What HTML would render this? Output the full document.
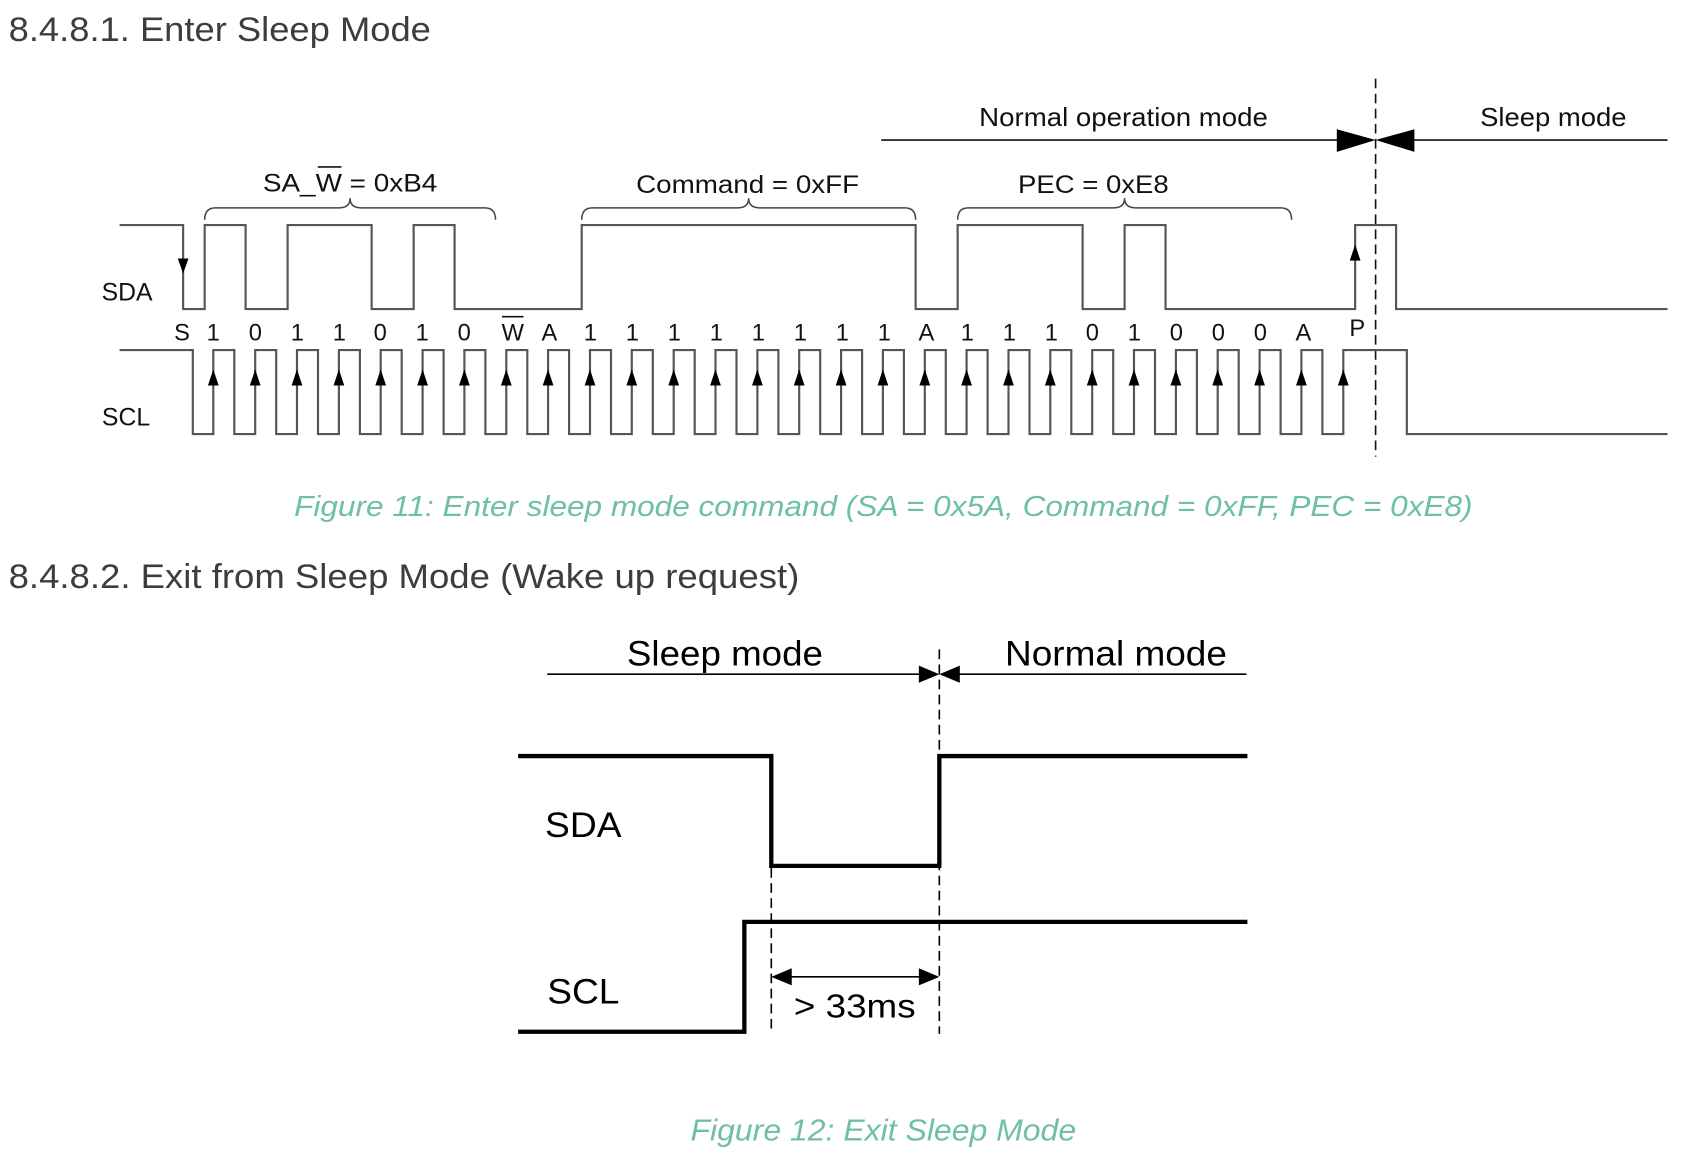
<!DOCTYPE html>
<html><head><meta charset="utf-8"><style>
html,body{margin:0;padding:0;background:#fff;}
svg{display:block;}
</style></head><body>
<svg width="1688" height="1164" viewBox="0 0 1567 1080.8" preserveAspectRatio="none" xmlns="http://www.w3.org/2000/svg">
<g font-family="Liberation Sans, sans-serif">
<text x="8" y="38" font-size="32" fill="#3d3d3d" textLength="392" lengthAdjust="spacingAndGlyphs">8.4.8.1. Enter Sleep Mode</text>
<text x="8" y="546" font-size="32" fill="#3d3d3d" textLength="734" lengthAdjust="spacingAndGlyphs">8.4.8.2. Exit from Sleep Mode (Wake up request)</text>

<!-- Figure 11 -->
<text x="1043" y="117" font-size="24" text-anchor="middle" fill="#111" textLength="268" lengthAdjust="spacingAndGlyphs">Normal operation mode</text>
<text x="1442" y="117" font-size="24" text-anchor="middle" fill="#111" textLength="136" lengthAdjust="spacingAndGlyphs">Sleep mode</text>
<line x1="818" y1="130" x2="1245" y2="130" stroke="#111" stroke-width="1.5"/>
<line x1="1310" y1="130" x2="1548" y2="130" stroke="#111" stroke-width="1.5"/>
<polygon points="1241,120 1241,141 1277,130" fill="#000"/>
<polygon points="1313,120 1313,141 1277,130" fill="#000"/>
<line x1="1277" y1="73" x2="1277" y2="424" stroke="#111" stroke-width="1.5" stroke-dasharray="9,5"/>

<text x="244" y="178" font-size="23" fill="#111" textLength="162" lengthAdjust="spacingAndGlyphs">SA_W = 0xB4</text>
<line x1="295" y1="155" x2="317" y2="155" stroke="#111" stroke-width="1.5"/>
<text x="694" y="179" font-size="23" text-anchor="middle" fill="#111" textLength="207" lengthAdjust="spacingAndGlyphs">Command = 0xFF</text>
<text x="1015" y="179" font-size="23" text-anchor="middle" fill="#111" textLength="140" lengthAdjust="spacingAndGlyphs">PEC = 0xE8</text>

<g fill="none" stroke="#444" stroke-width="1.4">
<path d="M190,204 Q190,193 200,193 H315 Q325,193 325,184 Q325,193 335,193 H450 Q460,193 460,204"/>
<path d="M540,204 Q540,193 550,193 H685 Q695,193 695,184 Q695,193 705,193 H840 Q850,193 850,204"/>
<path d="M889,204 Q889,193 899,193 H1034 Q1044,193 1044,184 Q1044,193 1054,193 H1189 Q1199,193 1199,204"/>
</g>

<g fill="none" stroke="#555" stroke-width="2">
<path d="M111,209 H170 V287 H190 V209 H228 V287 H267 V209 H345 V287 H384 V209 H422 V287 H540 V209 H850 V287 H889 V209 H1005 V287 H1044 V209 H1082 V287 H1258 V209 H1296 V287 H1548"/>
<path d="M111,325 H179 V403 H198 V325 H217.5 V403 H236.9 V325 H256.4 V403 H275.7 V325 H295.2 V403 H314.6 V325 H334.1 V403 H353.4 V325 H372.9 V403 H392.3 V325 H411.8 V403 H431.1 V325 H450.6 V403 H470 V325 H489.5 V403 H508.8 V325 H528.3 V403 H547.7 V325 H567.2 V403 H586.5 V325 H606 V403 H625.4 V325 H644.9 V403 H664.2 V325 H683.7 V403 H703.1 V325 H722.6 V403 H741.9 V325 H761.4 V403 H780.8 V325 H800.3 V403 H819.6 V325 H839.1 V403 H858.5 V325 H878 V403 H897.3 V325 H916.8 V403 H936.2 V325 H955.7 V403 H975 V325 H994.5 V403 H1013.9 V325 H1033.4 V403 H1052.7 V325 H1072.2 V403 H1091.6 V325 H1111.1 V403 H1130.4 V325 H1149.9 V403 H1169.3 V325 H1188.8 V403 H1208.1 V325 H1227.6 V403 H1247 V325 H1306 V403 H1548"/>
</g>
<g fill="#000">
<polygon points="165,240 175,240 170,254"/>
<polygon points="1258,227 1253,242 1263,242"/>
<polygon points="198,343 193,358 203,358"/><polygon points="236.9,343 231.9,358 241.9,358"/><polygon points="275.7,343 270.7,358 280.7,358"/><polygon points="314.6,343 309.6,358 319.6,358"/><polygon points="353.4,343 348.4,358 358.4,358"/><polygon points="392.3,343 387.3,358 397.3,358"/><polygon points="431.1,343 426.1,358 436.1,358"/><polygon points="470,343 465,358 475,358"/><polygon points="508.8,343 503.8,358 513.8,358"/><polygon points="547.7,343 542.7,358 552.7,358"/><polygon points="586.5,343 581.5,358 591.5,358"/><polygon points="625.4,343 620.4,358 630.4,358"/><polygon points="664.2,343 659.2,358 669.2,358"/><polygon points="703.1,343 698.1,358 708.1,358"/><polygon points="741.9,343 736.9,358 746.9,358"/><polygon points="780.8,343 775.8,358 785.8,358"/><polygon points="819.6,343 814.6,358 824.6,358"/><polygon points="858.5,343 853.5,358 863.5,358"/><polygon points="897.3,343 892.3,358 902.3,358"/><polygon points="936.2,343 931.2,358 941.2,358"/><polygon points="975,343 970,358 980,358"/><polygon points="1013.9,343 1008.9,358 1018.9,358"/><polygon points="1052.7,343 1047.7,358 1057.7,358"/><polygon points="1091.6,343 1086.6,358 1096.6,358"/><polygon points="1130.4,343 1125.4,358 1135.4,358"/><polygon points="1169.3,343 1164.3,358 1174.3,358"/><polygon points="1208.1,343 1203.1,358 1213.1,358"/><polygon points="1247,343 1242,358 1252,358"/>
</g>

<g font-size="22" fill="#111" text-anchor="middle">
<text x="118" y="279" font-size="23">SDA</text>
<text x="117" y="395" font-size="23">SCL</text>
<text x="169" y="316">S</text>
<text x="198" y="316">1</text><text x="237" y="316">0</text><text x="276" y="316">1</text><text x="315" y="316">1</text><text x="353" y="316">0</text><text x="392" y="316">1</text><text x="431" y="316">0</text><text x="476" y="316">W</text><text x="510" y="316">A</text>
<text x="548" y="316">1</text><text x="587" y="316">1</text><text x="626" y="316">1</text><text x="665" y="316">1</text><text x="704" y="316">1</text><text x="743" y="316">1</text><text x="782" y="316">1</text><text x="821" y="316">1</text><text x="860" y="316">A</text>
<text x="898" y="316">1</text><text x="937" y="316">1</text><text x="976" y="316">1</text><text x="1014" y="316">0</text><text x="1053" y="316">1</text><text x="1092" y="316">0</text><text x="1131" y="316">0</text><text x="1170" y="316">0</text><text x="1210" y="316">A</text>
<text x="1260" y="312">P</text>
</g>
<line x1="466" y1="294" x2="486" y2="294" stroke="#111" stroke-width="1.5"/>

<text x="820" y="479" font-size="27" font-style="italic" fill="#6fbfa6" text-anchor="middle" textLength="1094" lengthAdjust="spacingAndGlyphs">Figure 11: Enter sleep mode command (SA = 0x5A, Command = 0xFF, PEC = 0xE8)</text>

<!-- Figure 12 -->
<text x="673" y="618" font-size="33" text-anchor="middle" fill="#000" textLength="182" lengthAdjust="spacingAndGlyphs">Sleep mode</text>
<text x="1036" y="618" font-size="33" text-anchor="middle" fill="#000" textLength="206" lengthAdjust="spacingAndGlyphs">Normal mode</text>
<line x1="508" y1="626" x2="856" y2="626" stroke="#000" stroke-width="1.5"/>
<line x1="888" y1="626" x2="1157" y2="626" stroke="#000" stroke-width="1.5"/>
<polygon points="853,618 853,634 872,626" fill="#000"/>
<polygon points="891,618 891,634 872,626" fill="#000"/>
<line x1="872" y1="603" x2="872" y2="960" stroke="#000" stroke-width="1.5" stroke-dasharray="9,5"/>
<line x1="716" y1="806" x2="716" y2="960" stroke="#000" stroke-width="1.5" stroke-dasharray="9,5"/>
<path d="M481,702 H716 V804 H872 V702 H1158" fill="none" stroke="#000" stroke-width="4"/>
<path d="M481,958 H691 V856 H1158" fill="none" stroke="#000" stroke-width="4"/>
<text x="506" y="777" font-size="33" fill="#000" textLength="71" lengthAdjust="spacingAndGlyphs">SDA</text>
<text x="508" y="932" font-size="33" fill="#000" textLength="67" lengthAdjust="spacingAndGlyphs">SCL</text>
<line x1="725" y1="907" x2="863" y2="907" stroke="#000" stroke-width="1.5"/>
<polygon points="716,907 735,899 735,915" fill="#000"/>
<polygon points="872,907 853,899 853,915" fill="#000"/>
<text x="737" y="945" font-size="31" fill="#000" textLength="113" lengthAdjust="spacingAndGlyphs">&gt; 33ms</text>

<text x="820" y="1059" font-size="28" font-style="italic" fill="#6fbfa6" text-anchor="middle" textLength="358" lengthAdjust="spacingAndGlyphs">Figure 12: Exit Sleep Mode</text>
</g>
</svg>
</body></html>
